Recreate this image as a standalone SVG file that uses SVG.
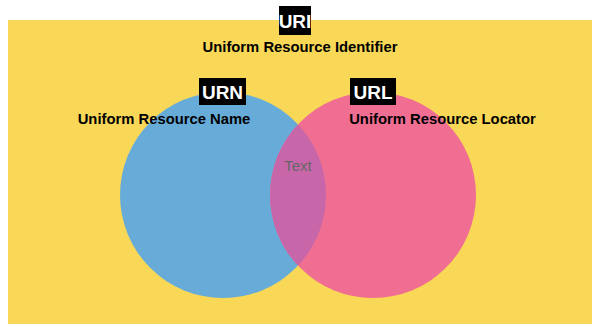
<svg xmlns="http://www.w3.org/2000/svg" width="600" height="326" viewBox="0 0 600 326">
  <style>
    .tag { fill: #000; }
    .tagtext { font-family: "Liberation Sans", Arial, sans-serif; font-weight: bold; font-size: 19px; fill: #fff; text-anchor: middle; }
    .label { font-family: "Liberation Sans", Arial, sans-serif; font-weight: bold; font-size: 14.8px; fill: #000; text-anchor: middle; }
  </style>
  <defs>
    <clipPath id="clipBlue">
      <circle cx="223" cy="195" r="103"/>
    </clipPath>
  </defs>
  <rect width="600" height="326" fill="#fff"/>
  <g id="uri">
    <rect x="8" y="20" width="584" height="304" fill="#f9d857"/>
    <rect class="tag" x="279" y="6" width="32" height="29"/>
    <text class="tagtext" x="295" y="28">URI</text>
    <text class="label" x="300" y="52">Uniform Resource Identifier</text>
  </g>
  <g id="urn">
    <circle cx="223" cy="195" r="103" fill="#67acd8"/>
  </g>
  <g id="url">
    <circle cx="373" cy="195" r="103" fill="#ef6e92"/>
  </g>
  <g id="overlap">
    <circle cx="373" cy="195" r="103" fill="#c866aa" clip-path="url(#clipBlue)"/>
    <text x="298" y="171" font-family="Liberation Sans, Arial, sans-serif" font-size="15" fill="#666" text-anchor="middle">Text</text>
  </g>
  <g id="urn-label">
    <rect class="tag" x="199" y="78" width="47" height="27"/>
    <text class="tagtext" x="222.5" y="99">URN</text>
    <text class="label" x="164" y="124">Uniform Resource Name</text>
  </g>
  <g id="url-label">
    <rect class="tag" x="350" y="78" width="46" height="27"/>
    <text class="tagtext" x="373" y="99">URL</text>
    <text class="label" x="442.5" y="124">Uniform Resource Locator</text>
  </g>
</svg>
